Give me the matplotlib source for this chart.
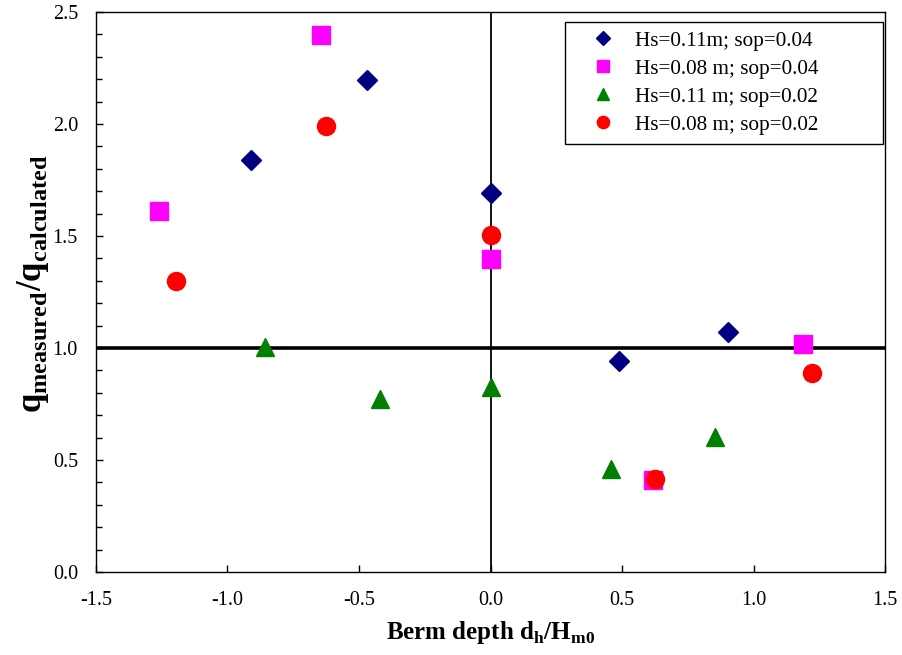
import matplotlib
matplotlib.use('Agg')
import matplotlib.pyplot as plt
from matplotlib.ticker import MultipleLocator, FormatStrFormatter

plt.rcParams['font.family'] = 'Liberation Serif'
plt.rcParams['mathtext.fontset'] = 'custom'
plt.rcParams['mathtext.rm'] = 'Liberation Serif'
plt.rcParams['mathtext.bf'] = 'Liberation Serif:bold'

# berm depth dh/Hm0 and overtopping ratio q_measured/q_calculated
x_hs011_s004 = [-0.909, -0.468, 0.0, 0.490, 0.904]
y_hs011_s004 = [1.839, 2.196, 1.692, 0.940, 1.071]

x_hs008_s004 = [-1.259, -0.646, 0.0, 0.619, 1.189]
y_hs008_s004 = [1.612, 2.397, 1.397, 0.409, 1.018]

x_hs011_s002 = [-0.859, -0.422, 0.0, 0.460, 0.854]
y_hs011_s002 = [1.004, 0.772, 0.826, 0.460, 0.601]

x_hs008_s002 = [-1.194, -0.625, 0.0, 0.625, 1.223]
y_hs008_s002 = [1.299, 1.992, 1.504, 0.415, 0.887]

labels = ['Hs=0.11m; sop=0.04', 'Hs=0.08 m; sop=0.04',
          'Hs=0.11 m; sop=0.02', 'Hs=0.08 m; sop=0.02']

fig = plt.figure(figsize=(9.02, 6.55), dpi=100)
ax = fig.add_axes([0.1064, 0.1267, 0.8748, 0.855])

ax.axhline(1.0, color='black', lw=2.6, zorder=1)
ax.axvline(0.0, color='black', lw=1.3, zorder=1)

ax.plot(x_hs011_s004, y_hs011_s004, 'D', color='#000080', ms=10.5, ls='none', label=labels[0], zorder=3)
ax.plot(x_hs008_s004, y_hs008_s004, 's', color='#FF00FF', ms=12.5, ls='none', label=labels[1], zorder=3)
ax.plot(x_hs011_s002, y_hs011_s002, '^', color='#008000', ms=13, ls='none', label=labels[2], zorder=3)
ax.plot(x_hs008_s002, y_hs008_s002, 'o', color='#FF0000', ms=13, ls='none', label=labels[3], zorder=4)

ax.set_xlim(-1.5, 1.5)
ax.set_ylim(0, 2.5)
ax.xaxis.set_major_locator(MultipleLocator(0.5))
ax.yaxis.set_major_locator(MultipleLocator(0.5))
ax.yaxis.set_minor_locator(MultipleLocator(0.1))
ax.xaxis.set_major_formatter(FormatStrFormatter('%.1f'))
ax.yaxis.set_major_formatter(FormatStrFormatter('%.1f'))
ax.tick_params(axis='both', which='both', direction='in', labelsize=14.5,
               top=False, right=False, width=1)
ax.tick_params(axis='both', which='major', length=5)
ax.tick_params(axis='y', which='minor', length=4)
ax.tick_params(axis='x', pad=14)
ax.tick_params(axis='y', pad=13)
for s in ax.spines.values():
    s.set_linewidth(1.0)

ax.set_xlabel(r'Berm depth d$_\mathbf{h}$/H$_\mathbf{m0}$', fontsize=18,
              fontweight='bold', labelpad=6)
ax.set_ylabel(r'$\mathbf{q}_{\mathbf{measured}}\mathbf{/q}_{\mathbf{calculated}}$',
              fontsize=25)
ax.yaxis.set_label_coords(-0.057, 0.515)

leg = ax.legend(loc='upper left', bbox_to_anchor=(0.5944, 0.780, 0.4031, 0.202),
                mode='expand', fontsize=15.3,
                frameon=True, fancybox=False, edgecolor='black', framealpha=1,
                handletextpad=0.16, handlelength=2.7, borderpad=0.42, labelspacing=0.38,
                borderaxespad=0.0, markerscale=0.68)
leg.get_frame().set_linewidth(1.0)

fig.savefig('out.png', dpi=100)
